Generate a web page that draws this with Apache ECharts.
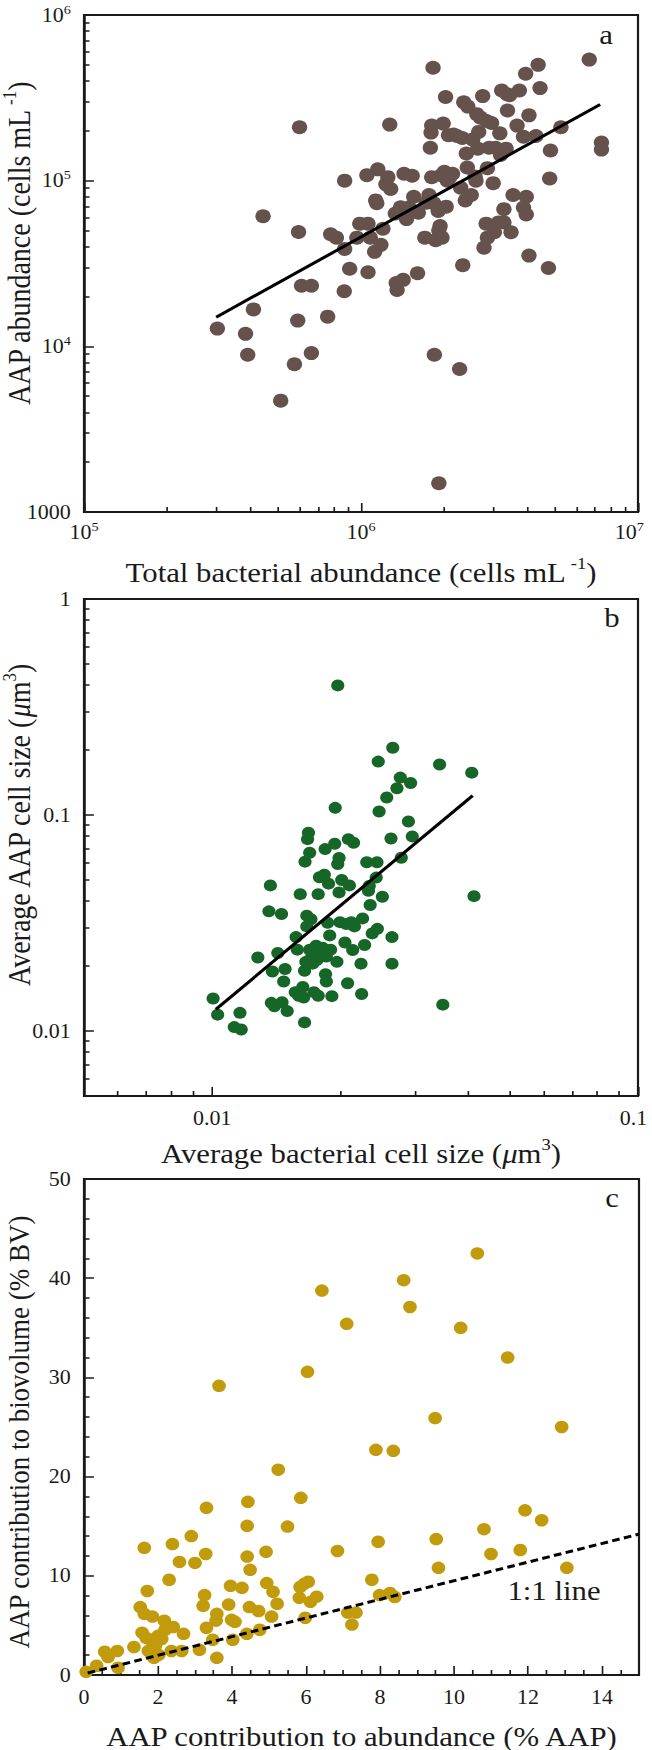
<!DOCTYPE html>
<html>
<head>
<meta charset="utf-8">
<script src="https://cdn.jsdelivr.net/npm/echarts@6/dist/echarts.min.js"></script>
<style>
html,body{margin:0;padding:0;background:#fff;overflow:hidden;}
#wrap{width:652px;height:1750px;overflow:hidden;}
#chart{width:593px;height:1750px;transform:scaleX(1.0995);transform-origin:0 0;}
</style>
</head>
<body>
<div id="wrap"><div id="chart"></div></div>
<script>
// ---------- Panel a: total bacterial abundance vs AAP abundance (cells mL-1) ----------
const aX = [3.03e5,3.83e5,3.9e5,4.09e5,4.43e5,5.13e5,5.75e5,5.91e5,5.95e5,6.0e5,
6.1e5,6.62e5,6.62e5,7.58e5,7.77e5,8.15e5,8.73e5,8.73e5,8.7e5,9.1e5,
9.66e5,9.9e5,1.06e6,1.05e6,1.06e6,1.08e6,1.12e6,1.13e6,1.14e6,1.15e6,
1.18e6,1.2e6,1.23e6,1.25e6,1.27e6,1.28e6,1.33e6,1.34e6,1.35e6,1.39e6,
1.42e6,1.43e6,1.46e6,1.49e6,1.53e6,1.55e6,1.6e6,1.61e6,1.7e6,1.72e6,
1.76e6,1.78e6,1.79e6,1.8e6,1.8e6,1.82e6,1.83e6,1.84e6,1.86e6,1.9e6,
1.91e6,1.91e6,1.93e6,1.95e6,1.96e6,1.98e6,2.0e6,2.02e6,2.03e6,2.05e6,
2.07e6,2.09e6,2.14e6,2.16e6,2.22e6,2.27e6,2.29e6,2.32e6,2.33e6,2.35e6,
2.38e6,2.4e6,2.42e6,2.43e6,2.5e6,2.53e6,2.58e6,2.6e6,2.62e6,2.64e6,
2.66e6,2.7e6,2.75e6,2.78e6,2.83e6,2.84e6,2.86e6,2.86e6,2.9e6,2.96e6,
3.0e6,3.03e6,3.06e6,3.14e6,3.17e6,3.19e6,3.22e6,3.28e6,3.28e6,3.34e6,
3.36e6,3.38e6,3.44e6,3.48e6,3.54e6,3.66e6,3.73e6,3.86e6,3.86e6,3.93e6,
3.95e6,3.95e6,4.04e6,4.04e6,4.28e6,4.36e6,4.43e6,4.75e6,4.8e6,4.83e6,
5.27e6,6.67e6,7.38e6,7.38e6];
const aY = [1.28e4,1.19e4,8.9e3,1.67e4,6.1e4,4.7e3,7.8e3,1.43e4,4.9e4,2.1e5,
2.32e4,2.32e4,9.1e3,1.51e4,4.75e4,4.53e4,1.0e5,3.87e4,2.15e4,2.94e4,
4.53e4,5.5e4,5.5e4,1.08e5,2.8e4,4.53e4,3.72e4,7.6e4,7.3e4,1.17e5,
4.1e4,5.13e4,9.5e4,1.05e5,2.18e5,8.9e4,6.34e4,2.41e4,2.19e4,6.9e4,
2.52e4,1.1e5,5.86e4,6.88e4,1.07e5,8.0e4,2.76e4,6.4e4,4.53e4,7.36e4,
8.2e4,1.58e5,1.95e5,2.15e5,1.05e5,4.8e5,7.3e4,8.9e3,4.37e4,6.56e4,
1.49e3,5.0e4,5.33e4,1.08e5,4.53e4,2.21e5,1.13e5,3.2e5,6.97e4,1.0e5,
1.88e5,1.05e5,1.1e5,1.9e5,1.86e5,7.3e3,9.06e4,1.81e5,3.09e4,2.97e5,
7.6e4,1.46e5,1.2e5,2.8e5,8.2e4,1.77e5,1.06e5,1.0e5,2.52e5,1.56e5,
1.97e5,2.4e5,3.24e5,3.94e4,5.5e4,2.29e5,4.53e4,1.19e5,1.58e5,2.23e5,
9.66e4,4.88e4,1.58e5,5.6e4,1.93e5,1.43e5,3.5e5,5.6e4,6.73e4,1.56e5,
3.33e5,2.65e5,3.28e5,4.88e4,8.2e4,2.15e5,3.5e5,1.84e5,6.88e4,4.42e5,
8.0e4,6.25e4,2.48e5,3.53e4,1.86e5,5.0e5,3.62e5,2.97e4,1.03e5,1.52e5,
2.1e5,5.38e5,1.7e5,1.54e5];
const aFitX = [3.0e5, 7.3e6];
const aFitY = [1.5e4, 2.88e5];
const aXRange = [1e5, 1e7];
const aYRange = [1e3, 1e6];
const aXTicks = [1e5, 1e6, 1e7];
const aXTickLabels = [['10','5'],['10','6'],['10','7']];
const aYTicks = [1e3, 1e4, 1e5, 1e6];
const aYTickLabels = [['1000',''],['10','4'],['10','5'],['10','6']];

// ---------- Panel b: average bacterial cell size vs average AAP cell size (um3) ----------
const bX = [0.01005,0.0103,0.01127,0.01162,0.0117,0.0128,0.01359,0.0137,0.01377,0.01385,
0.014,0.01426,0.01455,0.01459,0.01472,0.01483,0.015,0.01567,0.01574,0.01585,
0.01596,0.0161,0.01632,0.0164,0.01648,0.01648,0.01652,0.0166,0.01668,0.01668,
0.01675,0.01683,0.01694,0.01694,0.01706,0.01714,0.01722,0.01734,0.01754,0.01762,
0.01774,0.01774,0.01786,0.01795,0.01816,0.01834,0.01842,0.01846,0.01854,0.01854,
0.01867,0.01876,0.01888,0.01897,0.0191,0.0194,0.01945,0.01963,0.01972,0.01972,
0.01986,0.01986,0.01995,0.02015,0.0205,0.02065,0.0208,0.02089,0.021,0.02122,
0.02138,0.02148,0.02158,0.02236,0.02244,0.02255,0.0228,0.02307,0.02328,0.02338,
0.0235,0.02376,0.02428,0.02438,0.02443,0.02455,0.02466,0.0251,0.0257,0.0263,
0.02644,0.02644,0.02655,0.02716,0.02766,0.0278,0.0289,0.02924,0.02951,0.0342,
0.0348,0.0407,0.0412];
const bY = [0.01413,0.0119,0.01042,0.01213,0.01016,0.0219,0.0358,0.0472,0.0135,0.01884,
0.013,0.02295,0.0348,0.0136,0.01694,0.01935,0.01236,0.01513,0.0272,0.0238,
0.01456,0.043,0.016,0.01428,0.01096,0.019,0.0608,0.0209,0.0342,0.0305,
0.0773,0.0828,0.0669,0.0238,0.0329,0.0221,0.0205,0.01513,0.0248,0.0213,
0.043,0.01456,0.0515,0.02295,0.0243,0.0529,0.0695,0.0183,0.01694,0.0221,
0.0317,0.0481,0.0277,0.0238,0.0145,0.0736,0.1079,0.0209,0.398,0.0593,
0.0632,0.0438,0.0319,0.05,0.0257,0.0313,0.01663,0.0773,0.0472,0.0319,
0.0237,0.0744,0.0305,0.0205,0.01483,0.0332,0.025,0.0604,0.0446,0.0469,
0.0383,0.0283,0.0513,0.0604,0.0297,0.1767,0.1038,0.0418,0.1205,0.0778,
0.0272,0.0205,0.2048,0.133,0.149,0.0634,0.0933,0.1407,0.0796,0.1714,
0.01324,0.157,0.0421];
const bFitX = [0.0102, 0.0409];
const bFitY = [0.0126, 0.1228];
const bXRange = [0.005, 0.1];
const bYRange = [0.005, 1];
const bXTicks = [0.01, 0.1];
const bXTickLabels = [['0.01',''],['0.1','']];
const bYTicks = [0.01, 0.1, 1];
const bYTickLabels = [['0.01',''],['0.1',''],['1','']];

// ---------- Panel c: AAP contribution to abundance vs to biovolume (%) ----------
const cX = [0.06,0.34,0.56,0.65,0.90,0.92,1.35,1.52,1.57,1.63,
1.63,1.68,1.71,1.74,1.80,1.85,1.89,1.93,2.0,2.02,
2.10,2.17,2.19,2.30,2.36,2.39,2.41,2.58,2.64,2.69,
2.90,3.00,3.12,3.22,3.26,3.29,3.31,3.31,3.48,3.57,
3.59,3.59,3.65,3.91,3.96,3.99,4.02,4.08,4.27,4.40,
4.41,4.41,4.43,4.47,4.49,4.72,4.75,4.92,4.94,5.07,
5.11,5.22,5.25,5.50,5.82,5.84,5.86,5.95,5.98,6.04,
6.06,6.12,6.29,6.43,6.85,7.10,7.13,7.24,7.35,7.78,
7.89,7.95,7.99,8.27,8.36,8.40,8.64,8.81,9.49,9.52,
9.58,10.18,10.63,10.81,11.0,11.45,11.79,11.92,12.37,12.91,
13.05];
const cY = [0.32,0.93,2.34,1.81,2.42,0.73,2.82,6.85,4.27,6.17,
12.82,3.75,8.47,2.42,3.55,5.89,1.73,2.94,3.95,2.02,
3.63,5.48,4.56,9.60,2.42,13.2,4.84,11.4,2.42,4.15,
14.0,11.3,2.54,6.98,8.06,12.2,16.85,4.76,3.55,5.48,
1.73,6.17,29.15,7.1,8.99,5.56,3.55,5.36,8.79,4.15,
11.94,15.04,17.46,6.85,10.6,6.45,4.56,12.42,9.27,5.89,
8.39,7.18,20.7,14.96,7.78,8.87,17.86,9.19,5.77,30.56,
9.40,7.38,7.9,38.75,12.5,35.4,6.29,5.08,6.29,9.6,
22.7,13.43,8.06,8.27,22.6,7.86,39.8,37.1,25.9,13.7,
10.8,35.0,42.5,14.7,12.2,32.0,12.6,16.6,15.6,25.0,
10.8];
const cLineX = [0.1, 15];
const cLineY = [0.2, 14.2];
const cXRange = [0, 15];
const cYRange = [0, 50];
const cXTicks = [0, 2, 4, 6, 8, 10, 12, 14];
const cYTicks = [0, 10, 20, 30, 40, 50];
const cXMinorStep = 0.5;
const cYMinorStep = 2;

// ---------- texts ----------
const panelLetters = ['a', 'b', 'c'];
const lineLabel = '1:1 line';

// ---------- styling / helpers ----------
const FONT = "'Liberation Serif','Times New Roman',Times,serif";
const INK = '#1a1a1a';
const L10 = Math.log10;
const SX = 1.0995; // horizontal stretch applied to the whole drawing (see CSS)

function logMinor(lo, hi) {
  const out = [];
  for (let e = Math.floor(L10(lo)); e < Math.ceil(L10(hi)); e++) {
    for (let k = 2; k <= 9; k++) {
      const v = k * Math.pow(10, e);
      if (v > lo * 1.0001 && v < hi * 0.9999) out.push(L10(v));
    }
  }
  return out;
}
function linMinor(lo, hi, step, majors) {
  const out = [];
  const n = Math.round((hi - lo) / step);
  for (let i = 1; i < n; i++) {
    const v = +(lo + i * step).toFixed(6);
    if (majors.indexOf(v) < 0) out.push(v);
  }
  return out;
}
function tickRich(padW) {
  return {
    b: { fontFamily: FONT, fontSize: 20, color: INK, lineHeight: 24 },
    s: { fontFamily: FONT, fontSize: 13, color: INK, lineHeight: 24, verticalAlign: 'top' },
    p: { fontFamily: FONT, fontSize: 13, color: 'rgba(0,0,0,0)', lineHeight: 24, width: padW || 1 }
  };
}
function nameRich(fs) {
  const lh = Math.round(fs * 1.2);
  return {
    n: { fontFamily: FONT, fontSize: fs, color: INK, lineHeight: lh },
    i: { fontFamily: FONT, fontSize: fs, color: INK, lineHeight: lh, fontStyle: 'italic' },
    s: { fontFamily: FONT, fontSize: Math.round(fs * 0.6), color: INK, lineHeight: lh, verticalAlign: 'top' }
  };
}

// endPad: pull the label sitting on the far end of the axis inwards, as in the reference
function logLabelFormatter(ticks, labels, endPad) {
  return function (v) {
    for (let i = 0; i < ticks.length; i++) {
      if (Math.abs(L10(ticks[i]) - v) < 1e-6) {
        const l = labels[i];
        let s = l[1] ? '{b|' + l[0] + '}{s|' + l[1] + '}' : '{b|' + l[0] + '}';
        if (endPad && i === ticks.length - 1) s += '{p| }';
        return s;
      }
    }
    return '';
  };
}

function mainAxis(dim, grid, range, tickVals, formatter, name, nameGap, namePad, labelMargin, nameSize, padW) {
  return {
    type: 'value', gridIndex: grid, min: range[0], max: range[1],
    position: dim === 'x' ? 'bottom' : 'left',
    axisLine: { show: true, onZero: false, lineStyle: { color: INK, width: 2 } },
    axisTick: { show: true, inside: true, length: 9, customValues: tickVals, lineStyle: { color: INK, width: 1.5 } },
    axisLabel: { show: true, customValues: tickVals, formatter: formatter, margin: labelMargin,
      fontFamily: FONT, fontSize: 20, color: INK, rich: tickRich(padW), showMinLabel: true, showMaxLabel: true, hideOverlap: false },
    splitLine: { show: false },
    minorTick: { show: false },
    name: name, nameLocation: 'middle', nameGap: nameGap, nameMoveOverlap: false,
    nameTextStyle: { fontFamily: FONT, fontSize: nameSize, color: INK, rich: nameRich(nameSize), padding: namePad }
  };
}
function minorAxis(dim, grid, range, tickVals) {
  return {
    type: 'value', gridIndex: grid, min: range[0], max: range[1],
    position: dim === 'x' ? 'bottom' : 'left',
    axisLine: { show: false, onZero: false },
    axisTick: { show: true, inside: true, length: 5, customValues: tickVals, lineStyle: { color: INK, width: 1.5 } },
    axisLabel: { show: false },
    splitLine: { show: false }
  };
}

const aRX = aXRange.map(L10), aRY = aYRange.map(L10);
const bRX = bXRange.map(L10), bRY = bYRange.map(L10);
const XN = 28, YN = 28, YNC = 27;

const xAxes = [
  mainAxis('x', 0, aRX, aXTicks.map(L10), logLabelFormatter(aXTicks, aXTickLabels, true),
    '{n|Total bacterial abundance (cells mL}{s| -1}{n|)}', 43, 0, 8, XN, 16),
  minorAxis('x', 0, aRX, logMinor(aXRange[0], aXRange[1])),
  mainAxis('x', 1, bRX, bXTicks.map(L10), logLabelFormatter(bXTicks, bXTickLabels, true),
    '{n|Average bacterial cell size (}{i|μ}{n|m}{s|3}{n|)}', 40, 0, 10, XN, 8),
  minorAxis('x', 1, bRX, logMinor(bXRange[0], bXRange[1])),
  mainAxis('x', 2, cXRange, cXTicks, function (v) { return cXTicks.indexOf(v) >= 0 ? '{b|' + v + '}' : ''; },
    '{n|AAP contribution to abundance (% AAP)}', 44, 0, 10, XN),
  minorAxis('x', 2, cXRange, linMinor(cXRange[0], cXRange[1], cXMinorStep, cXTicks))
];
const yAxes = [
  mainAxis('y', 0, aRY, aYTicks.map(L10), logLabelFormatter(aYTicks, aYTickLabels, false),
    '{n|AAP abundance (cells mL}{s| -1}{n|)}', 42, [0, 0, 0, 40], 12, YN),
  minorAxis('y', 0, aRY, logMinor(aYRange[0], aYRange[1])),
  mainAxis('y', 1, bRY, bYTicks.map(L10), logLabelFormatter(bYTicks, bYTickLabels, false),
    '{n|Average AAP cell size (}{i|μ}{n|m}{s|3}{n|)}', 42, [0, 0, 0, 44], 12, YN),
  minorAxis('y', 1, bRY, logMinor(bYRange[0], bYRange[1])),
  mainAxis('y', 2, cYRange, cYTicks, function (v) { return cYTicks.indexOf(v) >= 0 ? '{b|' + v + '}' : ''; },
    '{n|AAP contribution to biovolume (% BV)}', 43, [0, 10, 0, 0], 12, YNC),
  minorAxis('y', 2, cYRange, linMinor(cYRange[0], cYRange[1], cYMinorStep, cYTicks))
];

const aData = aX.map((x, i) => [L10(x), L10(aY[i])]);
const bData = bX.map((x, i) => [L10(x), L10(bY[i])]);
const cData = cX.map((x, i) => [x, cY[i]]);
const aFit = aFitX.map((x, i) => [L10(x), L10(aFitY[i])]);
const bFit = bFitX.map((x, i) => [L10(x), L10(bFitY[i])]);
const cLine = cLineX.map((x, i) => [x, cLineY[i]]);

const px = v => v / SX; // convert target-page x to drawing x
const grids = [
  { left: px(84), top: 15, width: px(554), height: 497 },
  { left: px(84), top: 599, width: px(554), height: 497 },
  { left: px(84), top: 1179, width: px(555), height: 496 }
].map(g => Object.assign(g, { show: true, borderColor: INK, borderWidth: 2, backgroundColor: 'transparent',
  containLabel: false, outerBoundsMode: 'none' }));

const chart = echarts.init(document.getElementById('chart'), null, { renderer: 'svg', width: 593, height: 1750 });
chart.setOption({
  animation: false,
  backgroundColor: '#ffffff',
  grid: grids,
  xAxis: xAxes,
  yAxis: yAxes,
  series: [
    { type: 'scatter', xAxisIndex: 0, yAxisIndex: 0, data: aData, symbol: 'circle', symbolSize: 14,
      itemStyle: { color: '#66524c', opacity: 1 }, z: 3 },
    { type: 'line', xAxisIndex: 0, yAxisIndex: 0, data: aFit, symbol: 'none',
      lineStyle: { color: '#000', width: 3 }, z: 4 },
    { type: 'scatter', xAxisIndex: 2, yAxisIndex: 2, data: bData, symbol: 'circle', symbolSize: 12,
      itemStyle: { color: '#166628', opacity: 1 }, z: 3 },
    { type: 'line', xAxisIndex: 2, yAxisIndex: 2, data: bFit, symbol: 'none',
      lineStyle: { color: '#000', width: 3 }, z: 4 },
    { type: 'scatter', xAxisIndex: 4, yAxisIndex: 4, data: cData, symbol: 'circle', symbolSize: 12.5,
      itemStyle: { color: '#c29b0c', opacity: 1 }, z: 3 },
    { type: 'line', xAxisIndex: 4, yAxisIndex: 4, data: cLine, symbol: 'none',
      lineStyle: { color: '#000', width: 3, type: [7, 4] }, z: 4 }
  ],
  graphic: [
    { type: 'text', x: px(606), y: 34, style: { text: panelLetters[0], font: '28px ' + FONT, fill: INK, textAlign: 'center', textVerticalAlign: 'middle' } },
    { type: 'text', x: px(612), y: 617, style: { text: panelLetters[1], font: '28px ' + FONT, fill: INK, textAlign: 'center', textVerticalAlign: 'middle' } },
    { type: 'text', x: px(612), y: 1197, style: { text: panelLetters[2], font: '28px ' + FONT, fill: INK, textAlign: 'center', textVerticalAlign: 'middle' } },
    { type: 'text', x: px(554), y: 1590, style: { text: lineLabel, font: '28px ' + FONT, fill: INK, textAlign: 'center', textVerticalAlign: 'middle' } }
  ]
});
</script>
</body>
</html>
